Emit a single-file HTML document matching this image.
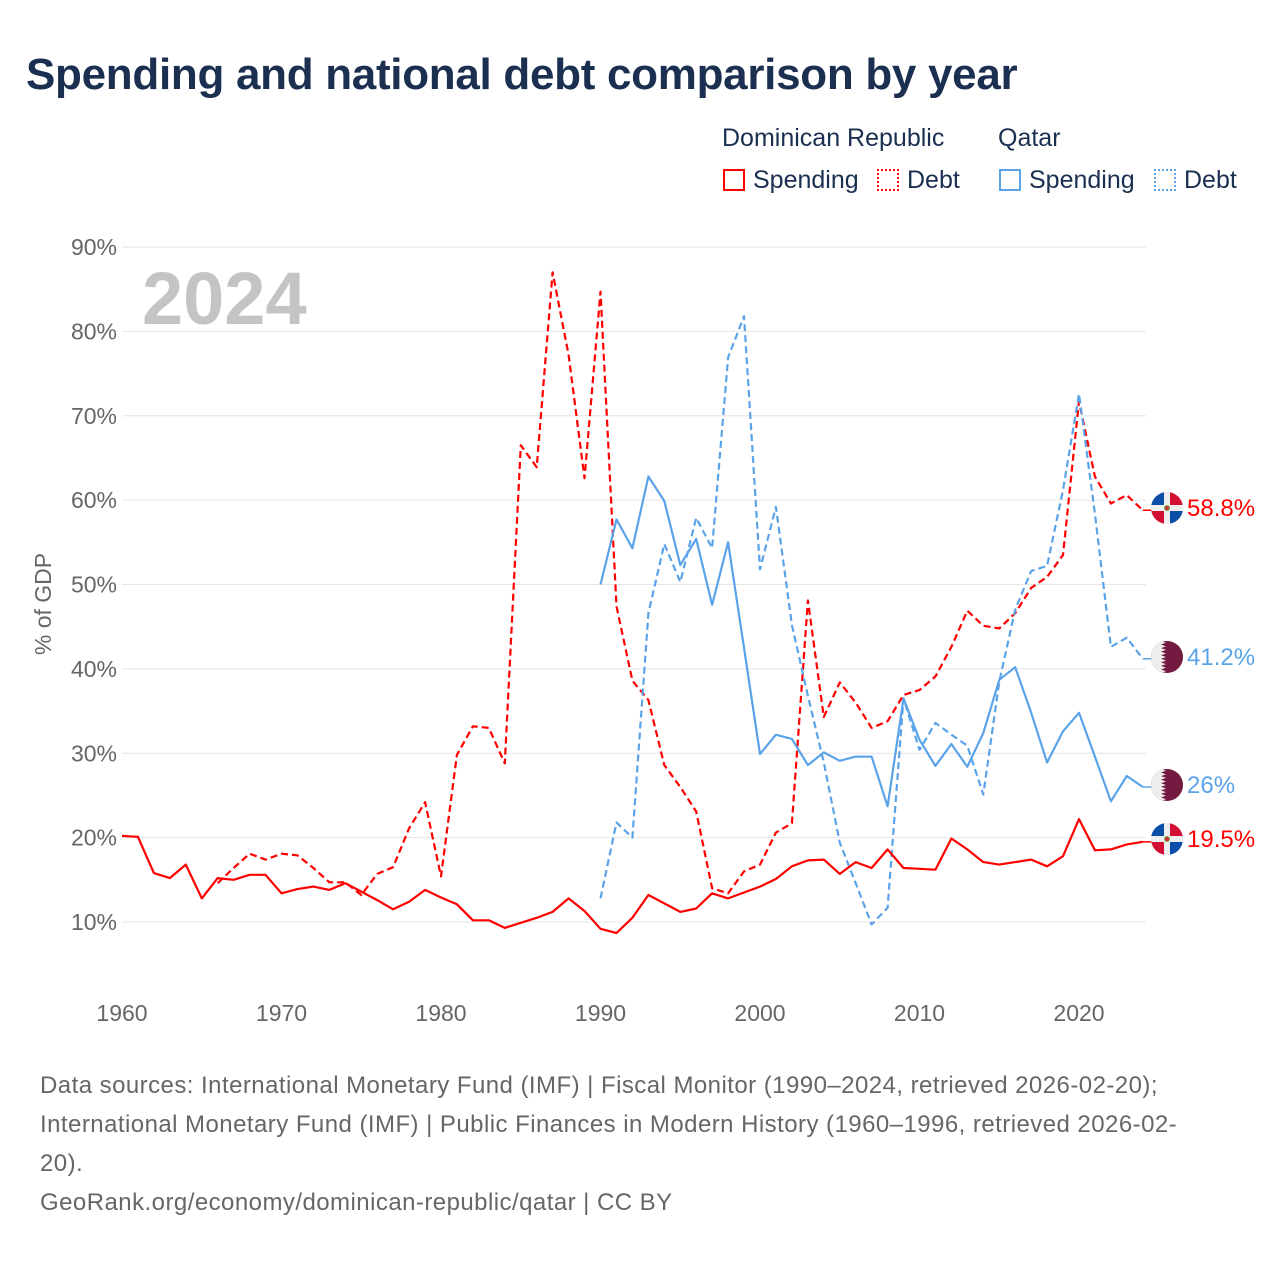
<!DOCTYPE html>
<html><head><meta charset="utf-8"><style>
body{margin:0;background:#fff;font-family:"Liberation Sans",sans-serif;}
#wrap{position:relative;width:1280px;height:1280px;overflow:hidden;}
h1{position:absolute;left:26px;top:50px;margin:0;font-size:44px;font-weight:bold;color:#1b2f50;letter-spacing:-0.3px;}
.lg{position:absolute;font-size:25px;color:#1b2f50;}
.sw{position:absolute;width:22px;height:22px;box-sizing:border-box;}
.foot{position:absolute;left:40px;font-size:24px;letter-spacing:0.45px;color:#666;line-height:39px;top:1066px;width:1220px;}
</style></head><body>
<div id="wrap">
<h1>Spending and national debt comparison by year</h1>
<div class="lg" style="left:722px;top:124px">Dominican Republic</div>
<div class="lg" style="left:998px;top:124px">Qatar</div>
<div class="sw" style="left:723px;top:169px;border:2px solid #f00"></div>
<div class="lg" style="left:753px;top:166px">Spending</div>
<div class="sw" style="left:877px;top:169px;border:2px dotted #f00"></div>
<div class="lg" style="left:907px;top:166px">Debt</div>
<div class="sw" style="left:999px;top:169px;border:2px solid #5ba3e8"></div>
<div class="lg" style="left:1029px;top:166px">Spending</div>
<div class="sw" style="left:1154px;top:169px;border:2px dotted #5ba3e8"></div>
<div class="lg" style="left:1184px;top:166px">Debt</div>
<svg id="plot" width="1280" height="1280" style="position:absolute;left:0;top:0"></svg>
<div class="foot">Data sources: International Monetary Fund (IMF) | Fiscal Monitor (1990–2024, retrieved 2026-02-20);<br>International Monetary Fund (IMF) | Public Finances in Modern History (1960–1996, retrieved 2026-02-<br>20).<br>GeoRank.org/economy/dominican-republic/qatar | CC BY</div>
</div>
<script>
const yTicks=[10,20,30,40,50,60,70,80,90];
const xTicks=[1960,1970,1980,1990,2000,2010,2020];
const drSpendStart=1960;
const drSpending=[20.2,20.1,15.8,15.2,16.8,12.8,15.2,15.0,15.6,15.6,13.4,13.9,14.2,13.8,14.6,13.6,12.6,11.5,12.4,13.8,12.9,12.1,10.2,10.2,9.3,9.9,10.5,11.2,12.8,11.3,9.2,8.7,10.5,13.2,12.2,11.2,11.6,13.4,12.8,13.5,14.2,15.1,16.6,17.3,17.4,15.7,17.1,16.4,18.6,16.4,16.3,16.2,19.9,18.6,17.1,16.8,17.1,17.4,16.6,17.8,22.2,18.5,18.6,19.2,19.5];
const drDebtStart=1966;
const drDebt=[14.6,16.4,18.1,17.4,18.1,17.9,16.4,14.7,14.7,13.2,15.7,16.5,21.1,24.2,15.4,29.8,33.2,33.0,28.8,66.5,63.9,87.0,77.2,62.6,84.7,47.4,38.6,36.3,28.6,26.0,23.1,14.0,13.4,16.0,16.8,20.6,21.7,48.1,34.3,38.4,36.0,33.0,33.8,36.9,37.5,39.1,42.6,46.9,45.1,44.8,46.6,49.6,50.9,53.5,71.7,62.8,59.6,60.6,58.8];
const qaSpendStart=1990;
const qaSpending=[50.0,57.7,54.3,62.8,59.9,52.3,55.4,47.6,55.0,42.5,29.9,32.2,31.7,28.6,30.1,29.1,29.6,29.6,23.7,36.5,31.6,28.5,31.1,28.4,32.4,38.7,40.2,34.8,28.9,32.6,34.8,29.6,24.3,27.3,26.0];
const qaDebtStart=1990;
const qaDebt=[12.8,21.8,20.0,46.6,54.8,50.3,57.9,54.3,76.9,81.8,51.8,59.2,45.2,36.8,28.9,19.4,14.6,9.7,11.7,36.5,30.4,33.6,32.2,30.9,25.1,38.5,47.0,51.6,52.2,61.2,72.6,58.4,42.6,43.7,41.2];
const endLabels=["58.8%","41.2%","26%","19.5%"];

const X=yr=>122+(yr-1960)*15.95;
const Y=v=>922-(v-10)*8.4375;
const svg=document.getElementById('plot');
const NS='http://www.w3.org/2000/svg';
function mk(t,a){const e=document.createElementNS(NS,t);for(const k in a)e.setAttribute(k,a[k]);svg.appendChild(e);return e;}
yTicks.forEach(v=>{
  const l=mk('line',{x1:122,x2:1146,y1:Y(v),y2:Y(v),stroke:'#e6e6e6','stroke-width':1});
  
  
  const t=mk('text',{x:117,y:Y(v)+8,'text-anchor':'end','font-size':23,fill:'#666','font-family':'Liberation Sans, sans-serif'});
  t.textContent=v+'%';
  
  
});
xTicks.forEach(yr=>{
  const t=mk('text',{x:X(yr),y:1021,'text-anchor':'middle','font-size':23,fill:'#666','font-family':'Liberation Sans, sans-serif'});
  t.textContent=yr;
  
  
});
const yt=mk('text',{x:0,y:0,transform:'translate(51,604) rotate(-90)','text-anchor':'middle','font-size':23,fill:'#666','font-family':'Liberation Sans, sans-serif'});
yt.textContent='% of GDP';


const wm=mk('text',{x:142,y:324,'font-size':74,'font-weight':'bold',fill:'#c4c4c4','font-family':'Liberation Sans, sans-serif'});
wm.textContent='2024';


function series(arr,start,color,dash,name){
  const pts=arr.map((v,i)=>X(start+i).toFixed(1)+','+Y(v).toFixed(1)).join(' ');
  const p=mk('polyline',{points:pts,fill:'none',stroke:color,'stroke-width':2.2,'stroke-linejoin':'round'});
  if(dash)p.setAttribute('stroke-dasharray','7,4');
  
  
}
series(drDebt,drDebtStart,'#ff0000',true,'line-dr-debt');
series(qaDebt,qaDebtStart,'#5ba3e8',true,'line-qatar-debt');
series(qaSpending,qaSpendStart,'#5ba3e8',false,'line-qatar-spending');
series(drSpending,drSpendStart,'#ff0000',false,'line-dr-spending');
function flagDR(cy){
  const g=document.createElementNS(NS,'g');svg.appendChild(g);
  
  
  const cx=1167,r=16;
  g.innerHTML=`<clipPath id="c${cy}"><circle cx="${cx}" cy="${cy}" r="${r}"/></clipPath><g clip-path="url(#c${cy})"><rect x="${cx-r}" y="${cy-r}" width="${2*r}" height="${2*r}" fill="#eee"/><rect x="${cx-r}" y="${cy-r}" width="${r-3}" height="${r-3}" fill="#0a4ea8"/><rect x="${cx+3}" y="${cy-r}" width="${r-3}" height="${r-3}" fill="#d21034"/><rect x="${cx-r}" y="${cy+3}" width="${r-3}" height="${r-3}" fill="#d21034"/><rect x="${cx+3}" y="${cy+3}" width="${r-3}" height="${r-3}" fill="#0a4ea8"/><circle cx="${cx}" cy="${cy}" r="3" fill="#7a5"/><circle cx="${cx}" cy="${cy}" r="2" fill="#c33"/></g>`;
}
function flagQA(cy){
  const g=document.createElementNS(NS,'g');svg.appendChild(g);
  
  
  const cx=1167,r=16;
  let zig='';for(let i=0;i<9;i++){const y0=cy-r+i*32/9;zig+=`${cx-6},${y0} ${cx-1},${y0+16/9} `;}
  zig+=`${cx-6},${cy+r}`;
  g.innerHTML=`<clipPath id="q${cy}"><circle cx="${cx}" cy="${cy}" r="${r}"/></clipPath><g clip-path="url(#q${cy})"><rect x="${cx-r}" y="${cy-r}" width="${2*r}" height="${2*r}" fill="#74193f"/><polygon points="${cx-r},${cy-r} ${zig} ${cx-r},${cy+r}" fill="#eee"/></g>`;
}
const lastVals=[drDebt[drDebt.length-1],qaDebt[qaDebt.length-1],qaSpending[qaSpending.length-1],drSpending[drSpending.length-1]];
const colors=['#ff0000','#5ba3e8','#5ba3e8','#ff0000'];
const labelY=[508,657,785,839];
lastVals.forEach((v,i)=>{
  const ly=labelY[i];
  const c=mk('line',{x1:X(2024),x2:1152,y1:Y(v),y2:Y(v),stroke:colors[i],'stroke-width':1.5});
  
  
  if(i===1||i===2)flagQA(ly);else flagDR(ly);
  const t=mk('text',{x:1187,y:ly+8,'font-size':24,fill:colors[i],'font-family':'Liberation Sans, sans-serif'});
  t.textContent=endLabels[i];
  
  
});
</script>
</body></html>
